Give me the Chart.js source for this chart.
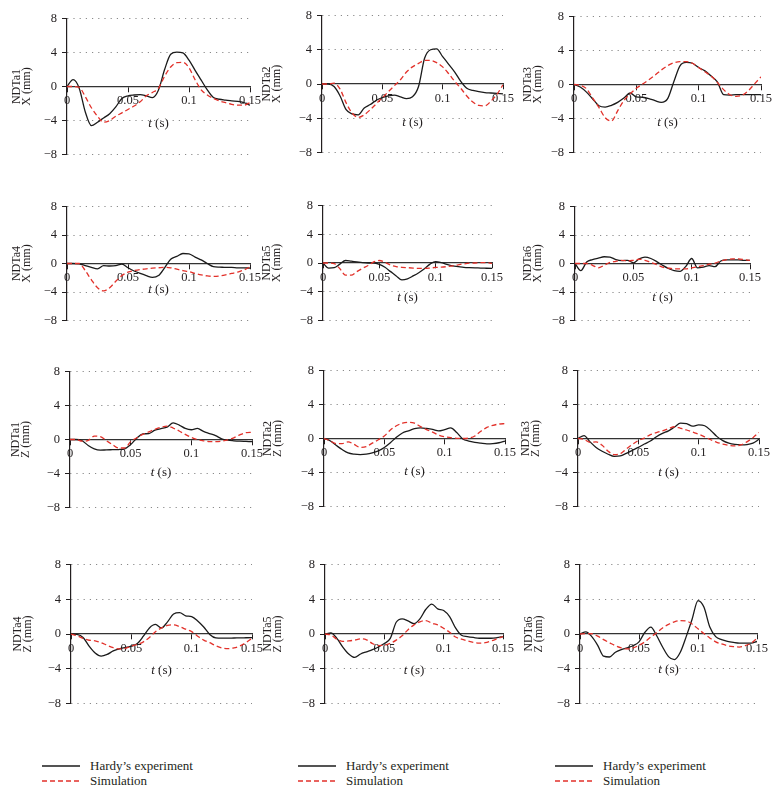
<!DOCTYPE html>
<html>
<head>
<meta charset="utf-8">
<script src="https://cdn.jsdelivr.net/npm/chart.js@4.4.0/dist/chart.umd.min.js"></script>
<style>
  html, body { margin: 0; padding: 0; background: #fff; }
  #page { position: relative; width: 777px; height: 794px; overflow: hidden; }
  #page canvas { position: absolute; }
  .legend { position: absolute; font: 13px "Liberation Serif", serif; color: #231f20; }
  .legend div { height: 15px; display: flex; align-items: center; white-space: nowrap; }
  .legend svg { margin-right: 10px; }
</style>
</head>
<body>
<div id="page"></div>
<script>
// time grid (s), shared by every series
const tGrid = [0, 0.005, 0.01, 0.015, 0.02, 0.025, 0.03, 0.035, 0.04, 0.045, 0.05, 0.055, 0.06, 0.065, 0.07, 0.075,
  0.08, 0.085, 0.09, 0.095, 0.1, 0.105, 0.11, 0.115, 0.12, 0.125, 0.13, 0.135, 0.14, 0.145, 0.15];

const xTicks = [0, 0.05, 0.1, 0.15];
const yTicks = [-8, -4, 0, 4, 8];

// X displacement (mm)
const hardyX1 = [0, 0.8, -0.2, -3.0, -4.6, -4.2, -3.7, -3.2, -2.4, -1.4, -1.1, -1.0, -0.95, -1.1, -1.3, -0.4, 2.0, 3.8, 4.05, 3.95, 3.1, 1.9, 0.75, -0.4, -1.3, -1.5, -1.6, -1.7, -1.75, -1.9, -2.2];
const simX1 = [0, 0, -0.1, -1.2, -2.5, -3.5, -4.2, -4.0, -3.5, -3.1, -2.7, -2.3, -1.8, -1.1, -0.7, -0.2, 1.2, 2.3, 2.8, 2.85, 2.2, 0.8, -0.4, -1.0, -1.4, -1.7, -1.9, -2.1, -2.2, -2.2, -1.9];
const hardyX2 = [0, 0, -0.3, -1.4, -3.0, -3.5, -3.6, -2.8, -2.4, -1.9, -1.6, -1.4, -1.3, -1.5, -1.7, -1.5, -0.3, 3.0, 4.0, 4.1, 3.2, 2.3, 1.4, 0.3, -0.5, -0.75, -0.9, -1.0, -1.05, -1.1, -1.15];
const simX2 = [0, 0, 0.1, -0.6, -2.2, -3.4, -3.9, -3.6, -3.0, -2.3, -1.6, -0.9, -0.2, 0.5, 1.4, 2.0, 2.4, 2.75, 2.75, 2.5, 2.0, 1.2, 0.3, -0.5, -1.4, -2.1, -2.5, -2.55, -2.0, -1.2, -0.1];
const hardyX3 = [0, -0.3, -0.9, -1.7, -2.5, -2.65, -2.45, -2.1, -1.6, -1.0, -1.45, -1.5, -1.65, -1.9, -2.1, -1.7, 0.3, 2.2, 2.6, 2.5, 2.0, 1.6, 1.0, 0.3, -1.2, -1.25, -1.2, -1.2, -1.2, -1.2, -1.2];
const simX3 = [0, -0.1, -0.5, -1.6, -2.7, -3.9, -4.3, -3.1, -1.9, -1.1, -0.45, 0.05, 0.55, 1.1, 1.7, 2.2, 2.55, 2.7, 2.7, 2.5, 2.0, 1.5, 1.0, 0.25, -0.6, -1.2, -1.4, -1.25, -0.7, 0.1, 0.9];
const hardyX4 = [0, 0, -0.05, -0.3, -0.55, -0.75, -0.3, -0.35, -0.3, -0.1, -0.6, -1.05, -1.4, -1.7, -1.95, -1.7, -0.6, 0.6, 1.0, 1.4, 1.35, 0.9, 0.5, 0.0, -0.45, -0.5, -0.55, -0.55, -0.6, -0.6, -0.65];
const simX4 = [0, 0, 0, -1.0, -2.3, -3.4, -3.85, -3.4, -2.5, -1.7, -1.2, -1.0, -0.85, -0.75, -0.65, -0.6, -0.55, -0.6, -0.8, -1.0, -1.15, -1.4, -1.6, -1.75, -1.8, -1.75, -1.6, -1.4, -1.2, -0.9, -0.5];
const hardyX5 = [0, -0.7, -0.65, -0.15, 0.35, 0.25, 0.15, 0.05, 0, 0, -0.2, -0.6, -1.2, -1.8, -2.35, -2.2, -1.8, -1.35, -0.8, -0.15, 0.2, 0.05, -0.2, -0.4, -0.5, -0.6, -0.65, -0.68, -0.7, -0.73, -0.76];
const simX5 = [0, 0, -0.1, -0.8, -1.7, -1.7, -1.2, -0.75, -0.35, 0.15, 0.35, 0.1, -0.3, -0.5, -0.6, -0.65, -0.7, -0.75, -0.75, -0.7, -0.62, -0.58, -0.5, -0.4, -0.25, -0.12, -0.03, 0, 0.05, 0.05, -0.05];
const hardyX6 = [0, -1.0, 0.2, 0.55, 0.75, 0.95, 0.9, 0.55, 0.4, 0.45, 0.1, 0.65, 0.9, 0.7, 0.27, -0.25, -0.7, -1.0, -1.1, -0.4, 0.7, -0.6, -0.5, -0.3, -0.45, 0.35, 0.5, 0.5, 0.5, 0.45, 0.45];
const simX6 = [0, 0, 0, -0.25, -0.6, -0.25, 0.15, 0.3, 0.45, 0.35, 0.45, 0.6, 0.45, 0.15, -0.15, -0.5, -0.65, -0.75, -0.76, -0.76, -0.6, -0.45, -0.3, -0.1, 0.05, 0.35, 0.55, 0.65, 0.65, 0.55, 0.45];

// Z displacement (mm)
const hardyZ1 = [0, 0, -0.15, -0.7, -1.1, -1.25, -1.22, -1.2, -1.18, -1.1, -0.6, 0.15, 0.65, 0.7, 1.1, 1.28, 1.45, 1.95, 1.7, 1.3, 1.15, 1.3, 0.95, 0.7, 0.45, 0.08, -0.08, -0.15, -0.2, -0.23, -0.26];
const simZ1 = [0, 0, -0.2, -0.1, 0.4, 0.35, -0.15, -0.6, -1.0, -1.0, -0.25, 0.2, 0.6, 0.9, 1.2, 1.45, 1.58, 1.35, 1.0, 0.6, 0.25, 0.0, -0.15, -0.25, -0.25, -0.2, -0.05, 0.2, 0.55, 0.8, 0.85];
const hardyZ2 = [0, -0.27, -0.8, -1.3, -1.7, -1.85, -1.9, -1.85, -1.7, -1.45, -1.05, -0.5, 0.15, 0.65, 0.9, 1.15, 1.25, 1.18, 1.07, 0.9, 1.05, 1.25, 0.7, -0.05, -0.3, -0.45, -0.55, -0.63, -0.6, -0.5, -0.3];
const simZ2 = [0, -0.27, -0.6, -0.6, -0.4, -0.7, -1.05, -0.95, -0.55, -0.15, 0.3, 1.0, 1.5, 1.8, 1.9, 1.8, 1.4, 1.05, 0.75, 0.4, 0.2, 0.1, 0.02, 0, 0.05, 0.3, 0.85, 1.3, 1.55, 1.7, 1.75];
const hardyZ3 = [0, 0.35, -0.4, -1.05, -1.5, -1.85, -2.1, -2.05, -1.75, -1.4, -1.05, -0.65, -0.3, 0.2, 0.6, 0.9, 1.35, 1.8, 1.75, 1.45, 1.6, 1.5, 0.95, 0.25, -0.25, -0.55, -0.7, -0.75, -0.72, -0.55, -0.1];
const simZ3 = [0, -0.1, -0.45, -0.4, -0.8, -1.5, -1.9, -1.8, -1.25, -0.7, -0.25, 0.05, 0.45, 0.7, 0.9, 1.15, 1.38, 1.2, 1.0, 0.75, 0.5, 0.2, -0.15, -0.45, -0.65, -0.8, -0.87, -0.75, -0.4, 0.1, 0.72];
const hardyZ4 = [0, -0.05, -0.4, -1.4, -2.2, -2.55, -2.35, -1.95, -1.7, -1.55, -1.4, -1.1, -0.25, 0.7, 1.1, 0.7, 1.4, 2.3, 2.45, 2.1, 2.0, 1.5, 0.8, -0.05, -0.45, -0.48, -0.48, -0.46, -0.45, -0.43, -0.41];
const simZ4 = [0, -0.2, -0.5, -0.72, -0.78, -1.0, -1.3, -1.58, -1.72, -1.65, -1.4, -1.2, -0.9, -0.4, 0.26, 0.7, 0.98, 1.05, 0.85, 0.55, 0.28, -0.25, -0.7, -1.0, -1.35, -1.6, -1.68, -1.6, -1.38, -1.0, -0.49];
const hardyZ5 = [0, 0.12, -0.5, -1.5, -2.3, -2.7, -2.3, -2.05, -1.8, -1.5, -1.1, -0.5, 1.35, 1.75, 1.5, 1.2, 1.75, 2.85, 3.45, 2.9, 2.7, 2.0, 0.7, -0.15, -0.3, -0.4, -0.49, -0.49, -0.49, -0.42, -0.3];
const simZ5 = [0, -0.12, -0.6, -0.85, -0.8, -0.7, -0.56, -0.67, -1.1, -1.33, -1.3, -1.08, -0.7, -0.2, 0.5, 1.05, 1.4, 1.55, 1.25, 1.05, 0.65, 0.2, -0.35, -0.6, -0.8, -0.97, -1.05, -1.0, -0.8, -0.55, -0.3];
const hardyZ6 = [0, 0.25, -0.3, -1.3, -2.55, -2.65, -2.1, -1.8, -1.6, -1.35, -0.9, 0.2, 0.8, -0.2, -1.5, -2.6, -2.95, -2.1, -0.3, 1.7, 3.85, 3.1, 0.8, -0.3, -0.65, -0.85, -0.97, -1.05, -1.05, -1.05, -0.86];
const simZ6 = [0, 0.05, 0.03, -0.25, -0.65, -1.0, -1.35, -1.6, -1.72, -1.6, -1.3, -0.9, -0.35, 0.15, 0.7, 1.1, 1.4, 1.55, 1.5, 1.15, 0.6, 0.05, -0.45, -0.9, -1.15, -1.35, -1.45, -1.5, -1.35, -1.05, -0.49];

const panelNames = ['NDTa1', 'NDTa2', 'NDTa3', 'NDTa4', 'NDTa5', 'NDTa6', 'NDTa1', 'NDTa2', 'NDTa3', 'NDTa4', 'NDTa5', 'NDTa6'];
const panelAxes = ['X', 'X', 'X', 'X', 'X', 'X', 'Z', 'Z', 'Z', 'Z', 'Z', 'Z'];
const hardySeries = [hardyX1, hardyX2, hardyX3, hardyX4, hardyX5, hardyX6, hardyZ1, hardyZ2, hardyZ3, hardyZ4, hardyZ5, hardyZ6];
const simSeries = [simX1, simX2, simX3, simX4, simX5, simX6, simZ1, simZ2, simZ3, simZ4, simZ5, simZ6];
const legendLabels = ['Hardy\u2019s experiment', 'Simulation'];

// page layout: y-axis x, right end, pixel of +8 and -8, title x, offset of "t (s)"
const boxes = [
  {x0: 67, x1: 250, yTop: 16, yBot: 157, tx: 17, tOff: 37},
  {x0: 322, x1: 503, yTop: 13, yBot: 155, tx: 267, tOff: 39},
  {x0: 574, x1: 761, yTop: 14, yBot: 155, tx: 528, tOff: 38},
  {x0: 67, x1: 250, yTop: 204, yBot: 323, tx: 17, tOff: 26},
  {x0: 323, x1: 492, yTop: 203, yBot: 323, tx: 267, tOff: 35},
  {x0: 575, x1: 750, yTop: 204, yBot: 323, tx: 528, tOff: 34},
  {x0: 70, x1: 252, yTop: 369, yBot: 510, tx: 16, tOff: 33},
  {x0: 324, x1: 505, yTop: 368, yBot: 509, tx: 268, tOff: 33},
  {x0: 578, x1: 759, yTop: 368, yBot: 509, tx: 526, tOff: 34},
  {x0: 71, x1: 252, yTop: 562, yBot: 706, tx: 18, tOff: 37},
  {x0: 325, x1: 503, yTop: 562, yBot: 706, tx: 268, tOff: 37},
  {x0: 580, x1: 757, yTop: 562, yBot: 706, tx: 529, tOff: 36}
];
const legendLefts = [42, 298, 555];

const INK = '#231f20';
const RED = '#e2312a';
Chart.defaults.font.family = '"Liberation Serif", "Times New Roman", serif';
Chart.defaults.color = INK;

// "t (s)" with an italic t, placed under the zero line
const timeTitle = {
  id: 'timeTitle',
  afterDraw(chart, args, opts) {
    const {ctx, chartArea, scales} = chart;
    const y = scales.y.getPixelForValue(0) + opts.offset;
    const cx = (chartArea.left + chartArea.right) / 2;
    ctx.save();
    ctx.fillStyle = INK;
    ctx.textBaseline = 'middle';
    ctx.font = 'italic 13px "Liberation Serif"';
    const w1 = ctx.measureText('t').width;
    ctx.font = '13px "Liberation Serif"';
    const w2 = ctx.measureText(' (s)').width;
    const x = cx - (w1 + w2) / 2;
    ctx.font = 'italic 13px "Liberation Serif"';
    ctx.fillText('t', x, y);
    ctx.font = '13px "Liberation Serif"';
    ctx.fillText(' (s)', x + w1, y);
    ctx.restore();
  }
};

const page = document.getElementById('page');

boxes.forEach((b, i) => {
  const left = b.tx - 5;
  const top = b.yTop - 10;
  const areaH = b.yBot - b.yTop;
  const w = b.x1 + 16 - left;
  const h = areaH + 20;
  const cv = document.createElement('canvas');
  cv.width = w;
  cv.height = h;
  cv.style.left = left + 'px';
  cv.style.top = top + 'px';
  page.appendChild(cv);

  const pts = arr => tGrid.map((t, k) => ({x: t, y: arr[k]}));

  new Chart(cv, {
    type: 'line',
    data: {
      datasets: [
        {
          label: legendLabels[0],
          data: pts(hardySeries[i]),
          borderColor: '#1b1b1b',
          borderWidth: 1.3,
          order: 1
        },
        {
          label: legendLabels[1],
          data: pts(simSeries[i]),
          borderColor: RED,
          borderWidth: 1.3,
          borderDash: [5, 3],
          order: 0
        }
      ]
    },
    options: {
      responsive: false,
      animation: false,
      devicePixelRatio: 1,
      events: [],
      layout: {padding: {left: 0, top: 10, right: 16, bottom: 10}},
      elements: {
        point: {radius: 0},
        line: {cubicInterpolationMode: 'monotone', fill: false}
      },
      plugins: {
        legend: {display: false},
        tooltip: {enabled: false},
        timeTitle: {offset: b.tOff}
      },
      scales: {
        x: {
          type: 'linear',
          position: {y: 0},
          min: 0,
          max: 0.15,
          afterBuildTicks: s => { s.ticks = xTicks.map(v => ({value: v})); },
          grid: {drawOnChartArea: false, drawTicks: true, tickLength: 5, tickColor: INK, tickWidth: 1},
          border: {display: true, color: '#333', width: 1.3},
          ticks: {
            font: {size: 12.5},
            padding: 2,
            maxRotation: 0,
            autoSkip: false,
            callback: v => String(+v.toFixed(2))
          }
        },
        y: {
          type: 'linear',
          position: 'left',
          min: -8,
          max: 8,
          afterBuildTicks: s => { s.ticks = yTicks.map(v => ({value: v})); },
          afterFit: s => { s.width = b.x0 - left; },
          grid: {
            color: c => c.tick && c.tick.value === 0 ? 'rgba(0,0,0,0)' : '#8a8a8a',
            lineWidth: 1,
            tickLength: 5,
            tickColor: INK,
            tickWidth: 1
          },
          border: {display: true, color: INK, width: 1.2, dash: [1.2, 5]},
          ticks: {
            font: {size: 12.5},
            padding: 5,
            callback: v => v < 0 ? '\u2212' + Math.abs(v) : String(v)
          },
          title: {
            display: true,
            text: [panelNames[i], panelAxes[i] + ' (mm)'],
            font: {size: 12, lineHeight: '10px'},
            padding: 0,
            color: INK
          }
        }
      }
    },
    plugins: [timeTitle]
  });
});

// legends under each column
legendLefts.forEach(x => {
  const box = document.createElement('div');
  box.className = 'legend';
  box.style.left = x + 'px';
  box.style.top = '758px';
  box.innerHTML = legendLabels.map((lab, k) =>
    '<div><svg width="38" height="4"><line x1="0" y1="2" x2="38" y2="2" stroke="' + (k ? RED : '#1b1b1b') +
    '" stroke-width="1.3"' + (k ? ' stroke-dasharray="5 3"' : '') + '/></svg><span>' + lab + '</span></div>'
  ).join('');
  page.appendChild(box);
});
</script>
</body>
</html>
